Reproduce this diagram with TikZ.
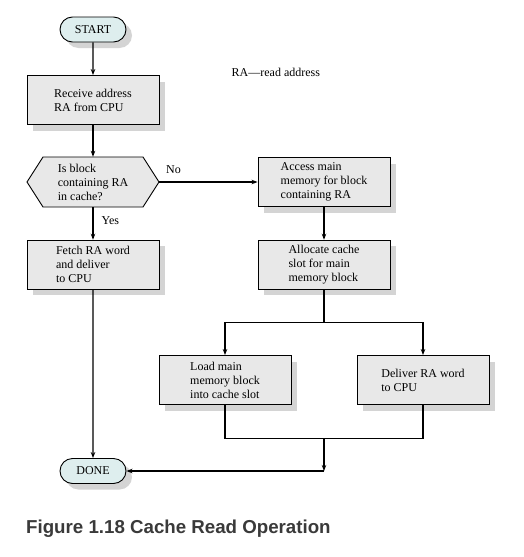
\documentclass[tikz,border=0pt]{standalone}
\usepackage{fontspec}
\setmainfont{Liberation Serif}
\newfontfamily\capfont{Liberation Sans}
\usetikzlibrary{shadows,arrows.meta,shapes.misc}
\definecolor{boxgray}{RGB}{232,232,232}
\definecolor{shadowgray}{RGB}{212,212,212}
\definecolor{termfill}{RGB}{222,238,238}
\definecolor{capgray}{RGB}{58,58,58}
\tikzset{
  every node/.style={font=\fontsize{12}{14}\selectfont},
  shadowed/.style={drop shadow={shadow xshift=6pt,shadow yshift=-6pt,fill=shadowgray,opacity=1}},
  procbox/.style={draw=black,line width=0.9pt,fill=boxgray,minimum width=132pt,minimum height=49pt,align=left,inner sep=0pt,shadowed},
  term/.style={draw=black,line width=0.9pt,fill=termfill,rounded rectangle,minimum width=66pt,minimum height=25pt,inner sep=0pt,shadowed},
  conn/.style={line width=1.4pt},
  arr/.style={conn,-{Stealth[length=6pt,width=4.5pt]}},
}
\begin{document}
\begin{tikzpicture}[x=1pt,y=-1pt]
\fill[white] (0,0) rectangle (523,557);
\useasboundingbox (0,0) rectangle (523,557);

\node[term] (start) at (93,29.5) {START};
\node[procbox] (recv) at (93,100) {Receive address\\RA from CPU};
\draw[line width=0.9pt,fill=boxgray] (27,182)--(43,157)--(143,157)--(159,182)--(143,207)--(43,207)--cycle;
\node[minimum width=132pt,minimum height=50pt,inner sep=0pt,align=left] (dec) at (93,182) {Is block\\containing RA\\in cache?};
\node[procbox] (access) at (324,182) {Access main\\memory for block\\containing RA};
\node[procbox] (fetch) at (93,264.7) {Fetch RA word\\and deliver\\to CPU};
\node[procbox] (alloc) at (324,264.7) {Allocate cache\\slot for main\\memory block};
\node[procbox] (load) at (225,380) {Load main\\memory block\\into cache slot};
\node[procbox] (deliv) at (423,380) {Deliver RA word\\to CPU};
\node[term] (done) at (93,471) {DONE};

\node[anchor=west,inner sep=0pt] (note) at (231.5,72) {RA—read address};
\node[anchor=west,inner sep=0pt] (no) at (166,170) {No};
\node[anchor=west,inner sep=0pt] (yes) at (101.5,221) {Yes};

\coordinate (split) at (324,322.7);
\coordinate (merge) at (324,438.3);
\coordinate (corner) at (324,471);

\draw[arr] (start) -- (recv);
\draw[arr] (recv) -- (dec.north);
\draw[arr] (dec.south) -- (fetch);
\draw[arr] (159,182) -- (access.west);
\draw[arr] (access) -- (alloc);
\draw[conn] (alloc.south) -- (split);
\draw[arr] (split) -| (load.north);
\draw[arr] (split) -| (deliv.north);
\draw[conn] (load.south) |- (merge) -| (deliv.south);
\draw[arr] (merge) -- (corner);
\draw[arr] (corner) -- (done.east);
\draw[arr] (fetch) -- (done);

\node[anchor=base west,inner sep=0pt,font=\capfont\bfseries\fontsize{18.7}{20}\selectfont,text=capgray] (cap) at (26,533) {Figure 1.18 Cache Read Operation};
\end{tikzpicture}
\end{document}
